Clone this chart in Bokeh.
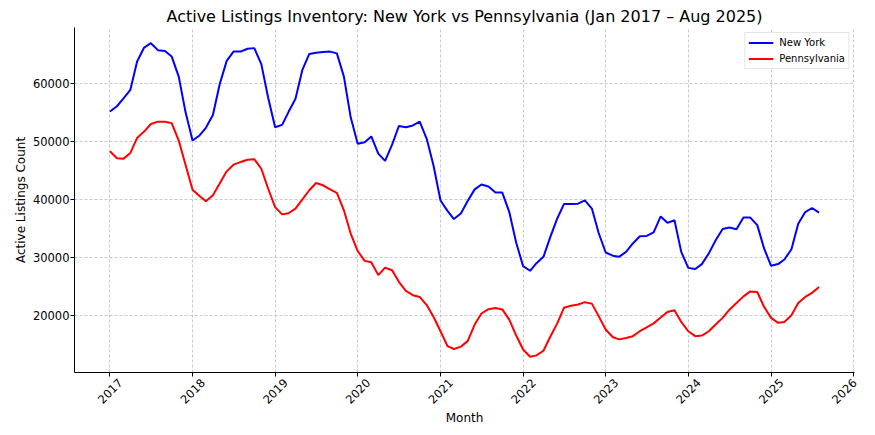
import math
import pandas as pd
from bokeh.plotting import figure
from bokeh.models import (Range1d, FixedTicker, DatetimeTickFormatter, Legend,
                          LegendItem, DatetimeAxis)
from bokeh.embed import file_html
from bokeh.resources import INLINE

months = pd.date_range("2017-01-01", "2025-08-01", freq="MS")

new_york = [
    55100, 56000, 57300, 58800, 63700, 66100, 66850, 65650, 65500, 64550, 61100, 55000,
    50100, 50980, 52300, 54500, 59800, 63800, 65400, 65400, 65900, 66000, 63250, 57500,
    52400, 52800, 55000, 57300, 62200, 65000, 65200, 65350, 65400, 65100, 61100, 54100,
    49550, 49800, 50800, 47850, 46600, 49400, 52600, 52400, 52700, 53350, 50400, 45800,
    39800, 38000, 36600, 37550, 39700, 41700, 42550, 42200, 41150, 41150, 37800, 32600,
    28500, 27700, 29000, 30100, 33500, 36700, 39200, 39200, 39250, 39800, 38400, 34200,
    30850, 30300, 30100, 30950, 32400, 33650, 33700, 34300, 37050, 35950, 36400, 30950,
    28200, 28000, 28850, 30700, 32950, 34900, 35150, 34850, 36850, 36850, 35550, 31550,
    28550, 28850, 29650, 31400, 35800, 37800, 38500, 37700,
]

pennsylvania = [
    48250, 47050, 46950, 47950, 50550, 51650, 52950, 53350, 53350, 53100, 50100, 45950,
    41650, 40550, 39650, 40700, 42700, 44800, 45950, 46400, 46800, 46900, 45250, 41850,
    38650, 37400, 37600, 38400, 39950, 41550, 42800, 42400, 41700, 41100, 38100, 34100,
    31100, 29400, 29150, 26950, 28250, 27800, 25800, 24250, 23500, 23200, 21800, 19800,
    17300, 14750, 14250, 14650, 15600, 18450, 20350, 21100, 21300, 21050, 19300, 16600,
    14150, 12900, 13150, 13950, 16350, 18650, 21350, 21700, 21900, 22300, 22050, 19900,
    17600, 16300, 15900, 16150, 16450, 17300, 17950, 18650, 19650, 20600, 20900, 18900,
    17300, 16450, 16550, 17300, 18450, 19600, 21000, 22150, 23300, 24150, 24050, 21500,
    19600, 18750, 18900, 20050, 22150, 23200, 23900, 24900,
]

tick_years = list(range(2017, 2027))
y_ticks = [20000, 30000, 40000, 50000, 60000]

FONT = "DejaVu Sans"
DAY_MS = 86400 * 1000


def to_ms(ts):
    return pd.Timestamp(ts).value / 1e6


span = months[-1] - months[0]
x_start = months[0] - span * 0.05
x_end = months[-1] + span * 0.05
ymin, ymax = min(pennsylvania), max(new_york)
ypad = (ymax - ymin) * 0.05

p = figure(
    width=870, height=427,
    x_axis_type="datetime",
    x_range=Range1d(to_ms(x_start), to_ms(x_end)),
    y_range=Range1d(ymin - ypad, ymax + ypad),
    output_backend="svg", toolbar_location=None,
    min_border_left=74, min_border_right=16, min_border_top=27, min_border_bottom=54,
)

p.title.text = "Active Listings Inventory: New York vs Pennsylvania (Jan 2017 \u2013 Aug 2025)"
p.title.align = "center"
p.title.text_font = FONT
p.title.text_font_size = "16px"
p.title.text_font_style = "normal"
p.title.text_color = "#000000"
p.title.standoff = 4

r_ny = p.line(months, new_york, line_color="#0000ff", line_width=2)
r_pa = p.line(months, pennsylvania, line_color="#ff0000", line_width=2)

year_fmt = dict(years="%Y", months="%Y", days="%Y", hours="%Y", minutes="%Y",
                seconds="%Y", milliseconds="%Y", microseconds="%Y",
                hourmin="%Y", minsec="%Y")

tick_ms = [to_ms(f"{y}-01-01") for y in tick_years]
p.xaxis.ticker = FixedTicker(ticks=tick_ms)
p.xgrid.ticker = FixedTicker(ticks=tick_ms)
p.xaxis.formatter = DatetimeTickFormatter(**year_fmt)
p.yaxis.ticker = FixedTicker(ticks=y_ticks)

for ax in (p.xaxis[0], p.yaxis[0]):
    ax.major_label_text_font = FONT
    ax.major_label_text_font_size = "11.5px"
    ax.major_label_text_color = "#000000"
    ax.axis_label_text_font = FONT
    ax.axis_label_text_font_size = "12px"
    ax.axis_label_text_font_style = "normal"
    ax.axis_label_text_color = "#000000"
    ax.axis_line_color = "#000000"
    ax.major_tick_line_color = "#000000"
    ax.major_tick_out = 4
    ax.major_tick_in = 0
    ax.minor_tick_line_color = None

# bottom axis: line and tick marks only
p.xaxis[0].major_label_text_alpha = 0
p.xaxis[0].major_label_standoff = 0
p.yaxis.axis_label = "Active Listings Count"
p.yaxis.major_label_standoff = 1
p.yaxis.axis_label_standoff = 2

# second axis below carries the rotated year labels, centred on each tick
shift_ms = 45.5 * DAY_MS
last_ok = to_ms(x_end) - 0.5 * DAY_MS
label_ticks = [min(t + shift_ms, last_ok) for t in tick_ms]
label_axis = DatetimeAxis(
    ticker=FixedTicker(ticks=label_ticks),
    formatter=DatetimeTickFormatter(**year_fmt),
    axis_line_color=None, major_tick_line_color=None, minor_tick_line_color=None,
    major_tick_out=0, major_tick_in=0, minor_tick_out=0, minor_tick_in=0,
    major_label_orientation=math.pi / 4, major_label_standoff=4,
    major_label_text_font=FONT, major_label_text_font_size="11.5px",
    major_label_text_color="#000000",
    axis_label="Month", axis_label_standoff=0,
    axis_label_text_font=FONT, axis_label_text_font_size="12px",
    axis_label_text_font_style="normal", axis_label_text_color="#000000",
)
p.add_layout(label_axis, "below")

p.outline_line_color = None
for g in (p.xgrid[0], p.ygrid[0]):
    g.grid_line_color = "#b0b0b0"
    g.grid_line_alpha = 0.7
    g.grid_line_dash = "3 2"
    g.grid_line_width = 1

legend = Legend(
    items=[LegendItem(label="New York", renderers=[r_ny]),
           LegendItem(label="Pennsylvania", renderers=[r_pa])],
    location="top_right",
    label_text_font=FONT, label_text_font_size="10px", label_text_color="#000000",
    glyph_width=25, glyph_height=13, label_height=13, label_standoff=6,
    spacing=3, padding=3, margin=5,
    border_line_color="#cccccc", border_line_width=1,
    background_fill_alpha=0.9,
)
p.add_layout(legend)

open("out.html", "w").write(file_html(p, INLINE))
